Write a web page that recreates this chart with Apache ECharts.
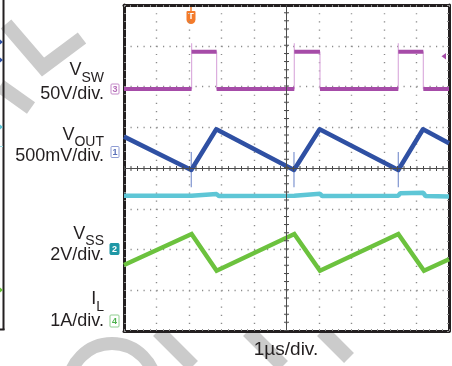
<!DOCTYPE html>
<html>
<head>
<meta charset="utf-8">
<script src="https://cdn.jsdelivr.net/npm/echarts@6/dist/echarts.min.js"></script>
<style>
  html, body { margin: 0; padding: 0; background: #fff; }
  #chart { width: 452px; height: 366px; }
</style>
</head>
<body>
<div id="chart"></div>
<script>
// Time base: 1 µs/div, 10 divisions; vertical: 8 divisions.
// Switching instants (µs): rise, fall, rise, fall, ...
const swEdges = [2.08, 2.85, 5.24, 6.03, 8.44, 9.21];
const vswLevels = [5.94, 6.85];      // low, high (div)
const vswRingTop = 7.06;             // ringing at each rising edge

const voutTime  = [0,    2.07, 2.84, 5.23, 6.02, 8.44, 9.2,  10];
const voutValue = [4.77, 3.95, 4.95, 3.95, 4.95, 3.95, 4.95, 4.61];
const voutSpikeTime = [2.07, 5.23, 8.44];
const voutSpikeSpan = [3.53, 4.39];

const vssTime  = [0,    2.08, 2.14, 2.85, 2.92, 5.24, 5.3,  6.03, 6.1,  8.44, 8.5,  9.21, 9.28, 10];
const vssValue = [3.32, 3.32, 3.36, 3.36, 3.31, 3.32, 3.36, 3.37, 3.31, 3.32, 3.38, 3.39, 3.31, 3.3];

const ilTime  = [0,    2.08, 2.85, 5.24, 6.03, 8.44, 9.23, 10];
const ilValue = [1.62, 2.38, 1.48, 2.38, 1.48, 2.38, 1.48, 1.76];

const traceSymbols = ['V', 'V', 'V', 'I'];
const traceSubs    = ['SW', 'OUT', 'SS', 'L'];
const traceScales  = ['50V/div.', '500mV/div.', '2V/div.', '1A/div.'];
const channelTags  = ['3', '1', '2', '4'];
const timeScale = '1µs/div.';

const C_SW = '#a64ca8', C_SW_EDGE = '#dcaede';
const C_OUT = '#2f50a3', C_SS = '#5ec6d6', C_IL = '#6cc23e';
const INK = '#231f20';
const FONT = '"Liberation Sans", Arial, Helvetica, sans-serif';

const pairs = (t, v) => t.map((x, i) => [x, v[i]]);

// switch node: thin edges + thick levels
const vswPath = [[0, vswLevels[0]]];
const vswFlat = [];
let prev = 0, level = 0;
swEdges.forEach((t, i) => {
  vswFlat.push([prev, vswLevels[level]], [t, vswLevels[level]], [t, '-']);
  if (i % 2 === 0) {
    vswPath.push([t, vswLevels[0]], [t, vswRingTop], [t, vswLevels[1]]);
  } else {
    vswPath.push([t, vswLevels[1]], [t, vswLevels[0]]);
  }
  prev = t; level = 1 - level;
});
vswPath.push([10, vswLevels[0]]);
vswFlat.push([prev, vswLevels[level]], [10, vswLevels[level]]);

const voutSpikes = [];
voutSpikeTime.forEach(t => voutSpikes.push([t, voutSpikeSpan[0]], [t, voutSpikeSpan[1]], [t, '-']));

const chart = echarts.init(document.getElementById('chart'), null, { renderer: 'canvas' });

const frameLine = { show: true, onZero: false, lineStyle: { color: INK, width: 3 } };
const frameTick = { show: true, inside: true, length: 2, lineStyle: { color: '#8f8f8f', width: 1 } };
const frameMinor = { show: true, splitNumber: 5, length: 2, lineStyle: { color: '#8f8f8f', width: 1 } };

function xAx(pos, grid) {
  return {
    type: 'value', position: pos, min: 0, max: 10, interval: 1,
    axisLine: frameLine, axisTick: frameTick, minorTick: frameMinor,
    axisLabel: { show: false },
    splitLine: { show: grid, lineStyle: { color: '#8c8c8c', width: 1.4, type: [1.2, 6.95] } }
  };
}
function yAx(pos, grid) {
  return {
    type: 'value', position: pos, min: 0, max: 8, interval: 1,
    axisLine: frameLine, axisTick: frameTick, minorTick: frameMinor,
    axisLabel: { show: false },
    splitLine: { show: grid, lineStyle: { color: '#8c8c8c', width: 1.4, type: [1.2, 5.3] } }
  };
}

const lineBase = { type: 'line', showSymbol: false, symbol: 'none', silent: true, animation: false, connectNulls: false, clip: true };

// left-hand trace labels
const mctx = document.createElement('canvas').getContext('2d');
function textWidth(str, size) { mctx.font = size + 'px ' + FONT; return mctx.measureText(str).width; }
const labelRight = 104;
const labelRows = [
  { sym: 69.5, sub: 77, scale: 93 },
  { sym: 134, sub: 141.5, scale: 155 },
  { sym: 233.5, sub: 240, scale: 254.5 },
  { sym: 298.5, sub: 306, scale: 320.5 }
];
const graphics = [];

// background stamp strokes
const stamp = '#cbcbcb';
[[[6, 24], [43, 67], [82, 38]], [[0, 86], [31, 108]],
 [[158, 331], [193, 366]], [[248, 331], [283, 366]], [[322, 331], [349, 358]]].forEach(p => {
  graphics.push({ type: 'polyline', z: -10, silent: true, shape: { points: p },
    style: { stroke: stamp, lineWidth: 14, fill: null, lineJoin: 'miter', lineCap: 'butt' } });
});
graphics.push({ type: 'arc', z: -10, silent: true,
  shape: { cx: 112, cy: 387, r: 43.5, startAngle: Math.PI, endAngle: 2 * Math.PI },
  style: { stroke: stamp, lineWidth: 13, fill: null } });

// edge of neighbouring screen
graphics.push({ type: 'line', shape: { x1: 3.5, y1: 0, x2: 3.5, y2: 330 }, style: { stroke: INK, lineWidth: 2 } });
graphics.push({ type: 'line', shape: { x1: 0, y1: 329.5, x2: 4.5, y2: 329.5 }, style: { stroke: INK, lineWidth: 2 } });
[[42, C_OUT], [60, C_OUT], [127, C_SS], [290, C_IL]].forEach(([y, c]) => {
  graphics.push({ type: 'polygon', shape: { points: [[0, y - 2.5], [3, y], [0, y + 2.5]] }, style: { fill: c } });
});
graphics.push({ type: 'line', shape: { x1: 0, y1: 146.5, x2: 3, y2: 146.5 }, style: { stroke: '#9fdde6', lineWidth: 1 } });

traceSymbols.forEach((s, i) => {
  const r = labelRows[i];
  const subW = textWidth(traceSubs[i], 14);
  graphics.push({ type: 'text', x: labelRight - subW, y: r.sym + 1,
    style: { text: s, fontSize: 18, fontFamily: FONT, fill: INK, align: 'right', verticalAlign: 'middle' } });
  graphics.push({ type: 'text', x: labelRight, y: r.sub + 1,
    style: { text: traceSubs[i], fontSize: 14, fontFamily: FONT, fill: INK, align: 'right', verticalAlign: 'middle' } });
  graphics.push({ type: 'text', x: labelRight, y: r.scale + 1,
    style: { text: traceScales[i], fontSize: 18, fontFamily: FONT, fill: INK, align: 'right', verticalAlign: 'middle' } });
});

// channel ground tags
const tagBoxes = [
  { x: 111, y: 84, w: 8, h: 10, fill: '#fff', stroke: '#c48ac8', ink: '#b56bb8' },
  { x: 111, y: 146.5, w: 8, h: 11, fill: '#fff', stroke: '#8f9dd4', ink: '#5a70b8' },
  { x: 110, y: 243.5, w: 9, h: 11, fill: '#1f97a5', stroke: '#1f97a5', ink: '#fff' },
  { x: 110, y: 315, w: 9, h: 12, fill: '#fff', stroke: '#8fce8f', ink: '#4cb04c' }
];
channelTags.forEach((t, i) => {
  const b = tagBoxes[i];
  graphics.push({ type: 'rect', shape: { x: b.x, y: b.y, width: b.w, height: b.h, r: 1 },
    style: { fill: b.fill, stroke: b.stroke, lineWidth: 1 } });
  graphics.push({ type: 'text', x: b.x + b.w / 2, y: b.y + b.h / 2 + 0.5,
    style: { text: t, fontSize: 9, fontWeight: 'bold', fontFamily: FONT, fill: b.ink, align: 'center', verticalAlign: 'middle' } });
});

// trigger position and level markers
graphics.push({ type: 'line', shape: { x1: 191, y1: 5, x2: 191, y2: 11 }, style: { stroke: '#f47b2b', lineWidth: 1.5 } });
graphics.push({ type: 'rect', shape: { x: 186.5, y: 11, width: 9, height: 13, r: [1, 1, 4.5, 4.5] }, style: { fill: '#f47b2b' } });
graphics.push({ type: 'text', x: 191, y: 17,
  style: { text: 'T', fontSize: 9, fontWeight: 'bold', fontFamily: FONT, fill: '#fff', align: 'center', verticalAlign: 'middle' } });
graphics.push({ type: 'polygon', shape: { points: [[446, 53], [446, 59.5], [441.5, 56.2]] }, style: { fill: C_SW } });

// time scale
graphics.push({ type: 'text', x: 286, y: 349.5,
  style: { text: timeScale, fontSize: 19, fontFamily: FONT, fill: INK, align: 'center', verticalAlign: 'middle' } });

chart.setOption({
  animation: false,
  backgroundColor: '#fff',
  grid: { left: 124, top: 5, width: 325, height: 326, show: true, backgroundColor: '#fff', borderWidth: 0 },
  xAxis: [xAx('bottom', true), xAx('top', false)],
  yAxis: [yAx('left', true), yAx('right', false)],
  graphic: graphics,
  series: [
    Object.assign({}, lineBase, {
      name: 'axes', data: [], z: 1,
      markLine: {
        silent: true, symbol: ['none', 'none'], label: { show: false }, animation: false,
        data: [
          { yAxis: 4, lineStyle: { color: '#4d4d4d', width: 1, type: 'solid' } },
          { yAxis: 4, lineStyle: { color: '#4d4d4d', width: 5, type: [1, 5.5] } },
          { xAxis: 5, lineStyle: { color: '#4d4d4d', width: 1, type: 'solid' } },
          { xAxis: 5, lineStyle: { color: '#4d4d4d', width: 5, type: [1, 7.15] } }
        ]
      }
    }),
    Object.assign({}, lineBase, { name: 'VSW edges', data: vswPath, z: 3, lineStyle: { color: C_SW_EDGE, width: 1.2 } }),
    Object.assign({}, lineBase, { name: 'VSW', data: vswFlat, z: 4, lineStyle: { color: C_SW, width: 4, cap: 'butt' } }),
    Object.assign({}, lineBase, { name: 'VOUT spikes', data: voutSpikes, z: 3, lineStyle: { color: '#7f95d0', width: 1.2 } }),
    Object.assign({}, lineBase, { name: 'VOUT', data: pairs(voutTime, voutValue), z: 4, lineStyle: { color: C_OUT, width: 4.5, join: 'round' } }),
    Object.assign({}, lineBase, { name: 'VSS', data: pairs(vssTime, vssValue), z: 4, lineStyle: { color: C_SS, width: 4.5 } }),
    Object.assign({}, lineBase, { name: 'IL', data: pairs(ilTime, ilValue), z: 4, lineStyle: { color: C_IL, width: 4.5, join: 'miter' } })
  ]
});
</script>
</body>
</html>
